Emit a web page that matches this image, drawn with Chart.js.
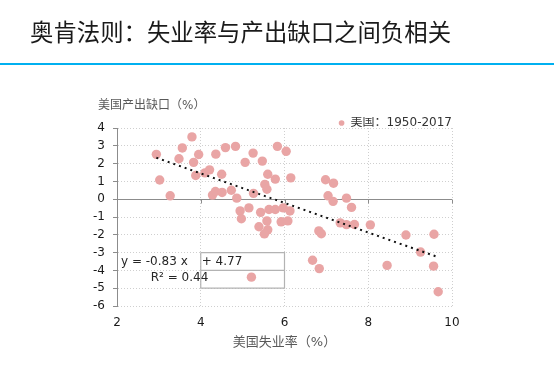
<!DOCTYPE html>
<html><head><meta charset="utf-8">
<script src="https://cdn.jsdelivr.net/npm/chart.js@4.4.0/dist/chart.umd.min.js"></script>
<style>
html,body{margin:0;padding:0;background:#fff;}
#wrap{position:relative;width:554px;height:366px;overflow:hidden;}
#box{position:absolute;left:0;top:0;width:554px;height:366px;}
#title{position:absolute;left:30px;top:19px;font:23.4px/24px 'Noto Sans CJK SC',sans-serif;color:#1a1a1a;white-space:nowrap;}
#rule{position:absolute;left:0;top:63px;width:554px;height:2px;background:#00b0f0;}
</style></head><body>
<div id="wrap">
<div id="box"><canvas id="c"></canvas></div>
<div id="title">奥肯法则：失业率与产出缺口之间负相关</div>
<div id="rule"></div>
</div>
<script>
// ---- data ----
const seriesName = '美国：1950-2017';
const unemployment = [2.94,3.02,3.27,3.48,3.56,3.79,3.83,3.95,3.88,4.10,4.21,4.36,4.50,4.59,4.83,4.28,4.35,4.51,4.73,4.86,5.06,5.25,5.47,5.60,5.78,5.53,5.58,5.26,5.83,6.04,6.15,6.98,7.17,7.04,7.16,7.48,7.60,4.94,5.15,4.97,5.43,5.63,5.78,5.97,6.13,5.58,5.39,5.60,5.52,5.92,6.08,6.82,6.88,6.67,6.83,5.21,7.33,7.48,7.67,8.05,8.90,9.57,9.25,8.45,9.56,9.67];
const outputGap = [2.52,1.08,0.19,2.27,2.88,3.50,2.07,2.51,1.33,1.48,1.65,2.53,1.40,2.90,2.97,0.23,0.43,0.38,0.50,0.06,2.07,2.59,2.14,1.40,1.13,0.83,0.56,0.33,2.97,2.69,1.20,1.09,0.90,0.19,-0.12,0.06,-0.46,-0.66,-0.49,-1.10,-0.74,-0.58,-0.58,-0.49,-0.66,-1.22,-1.55,-1.72,-1.95,-1.27,-1.22,-1.78,-1.94,-3.43,-3.90,-4.38,-1.33,-1.43,-1.42,-1.44,-2.01,-1.97,-2.97,-3.72,-3.76,-5.20];
const trendSlope = -0.83;
const trendIntercept = 4.77;
const trendXRange = [2.94, 9.69];
const eqLine1a = 'y = -0.83 x';
const eqLine1b = '+ 4.77';
const eqLine2 = 'R² = 0.44';
const eqBoxX = [4, 6];
const eqBoxY = [-3, -4, -5];
const xRange = [2, 10];
const yRange = [-6, 4];
const xTitle = '美国失业率（%）';
const yTitle = '美国产出缺口（%）';

// ---- build ----
const pts = unemployment.map((u, i) => ({x: u, y: outputGap[i]}));
const trend = trendXRange.map(v => ({x: v, y: trendSlope * v + trendIntercept}));
const boxOuter = [
  {x: eqBoxX[0], y: eqBoxY[0]}, {x: eqBoxX[1], y: eqBoxY[0]},
  {x: eqBoxX[1], y: eqBoxY[2]}, {x: eqBoxX[0], y: eqBoxY[2]},
  {x: eqBoxX[0], y: eqBoxY[0]}
];
const boxMid = [{x: eqBoxX[0], y: eqBoxY[1]}, {x: eqBoxX[1], y: eqBoxY[1]}];

const FONT = "'DejaVu Sans','Noto Sans CJK SC',sans-serif";
const AXIS = '#8c8c8c';
const PINK = '#E9A5A5';
Chart.defaults.font.family = FONT;
const fmt = v => (v < 0 ? '-' : '') + Math.abs(v);

const overlay = {
  id: 'overlay',
  beforeDatasetsDraw(chart) {
    const {ctx, scales: {x, y}} = chart;
    const y0 = Math.round(y.getPixelForValue(0)) + 0.5;
    ctx.save();
    ctx.strokeStyle = AXIS; ctx.lineWidth = 1;
    ctx.beginPath();
    ctx.moveTo(x.getPixelForValue(xRange[0]), y0);
    ctx.lineTo(x.getPixelForValue(xRange[1]), y0);
    x.ticks.forEach(t => {
      const px = Math.round(x.getPixelForValue(t.value)) + 0.5;
      ctx.moveTo(px, y0); ctx.lineTo(px, y0 + 4);
    });
    ctx.stroke();
    ctx.restore();
  },
  afterDatasetsDraw(chart) {
    const {ctx, scales: {x, y}} = chart;
    const x4 = x.getPixelForValue(eqBoxX[0]);
    ctx.save();
    ctx.fillStyle = '#262626';
    ctx.font = '12px ' + FONT;
    ctx.textBaseline = 'middle';
    const l1 = y.getPixelForValue(-3.5), l2 = y.getPixelForValue(-4.4);
    ctx.textAlign = 'right'; ctx.fillText(eqLine1a, x4 - 13, l1);
    ctx.textAlign = 'left'; ctx.fillText(eqLine1b, x4 + 1, l1);
    ctx.fillText(eqLine2, x4 - 50, l2);
    // y-axis name, horizontal above the plot
    ctx.fillStyle = '#595959';
    ctx.textAlign = 'left';
    ctx.fillText(yTitle, y.left + 13, chart.chartArea.top - 22);
    ctx.restore();
  }
};

new Chart(document.getElementById('c'), {
  type: 'scatter',
  data: {
    datasets: [
      {label: seriesName, data: pts, backgroundColor: PINK, borderColor: PINK, borderWidth: 0,
       pointRadius: 4.7, pointHoverRadius: 4.7, order: 1},
      {label: 'trend', data: trend, showLine: true, borderColor: '#111', borderWidth: 2,
       borderDash: [2, 4], pointRadius: 0, order: 0},
      {label: 'box1', data: boxOuter, showLine: true, borderColor: '#b3b3b3', borderWidth: 1.2,
       pointRadius: 0, order: 2},
      {label: 'box2', data: boxMid, showLine: true, borderColor: '#b3b3b3', borderWidth: 1.2,
       pointRadius: 0, order: 2}
    ]
  },
  options: {
    responsive: true, maintainAspectRatio: false, animation: false,
    layout: {padding: {left: 85, right: 102, top: 117, bottom: 0}},
    plugins: {
      tooltip: {enabled: false},
      title: {display: false},
      legend: {
        display: true, position: 'top', align: 'end', maxHeight: 11,
        labels: {
          usePointStyle: true, pointStyle: 'circle', boxWidth: 6, boxHeight: 4, padding: 0,
          color: '#333', font: {size: 12, family: FONT},
          filter: item => item.text === seriesName
        }
      }
    },
    scales: {
      x: {
        type: 'linear', min: xRange[0], max: xRange[1],
        ticks: {stepSize: 2, color: '#1a1a1a', font: {size: 12}, padding: 10, callback: fmt},
        grid: {color: '#cfcfcf', lineWidth: 1, drawTicks: false},
        border: {display: false, dash: [1, 2]},
        title: {display: true, text: xTitle, color: '#595959', font: {size: 13, family: FONT},
                padding: {top: 0, bottom: 16}},
        afterFit: s => { s.height = 60; s.paddingLeft = 0; s.paddingRight = 0; }
      },
      y: {
        type: 'linear', min: yRange[0], max: yRange[1],
        ticks: {stepSize: 1, color: '#1a1a1a', font: {size: 12}, padding: 8, callback: fmt},
        grid: {color: '#cfcfcf', lineWidth: 1, drawTicks: true, tickLength: 4,
               tickColor: AXIS, tickBorderDash: []},
        border: {display: true, color: AXIS, width: 1, dash: [1, 2]},
        afterFit: s => { s.width = 32; s.paddingTop = 0; s.paddingBottom = 0; }
      }
    }
  },
  plugins: [overlay]
});
</script>
</body></html>
